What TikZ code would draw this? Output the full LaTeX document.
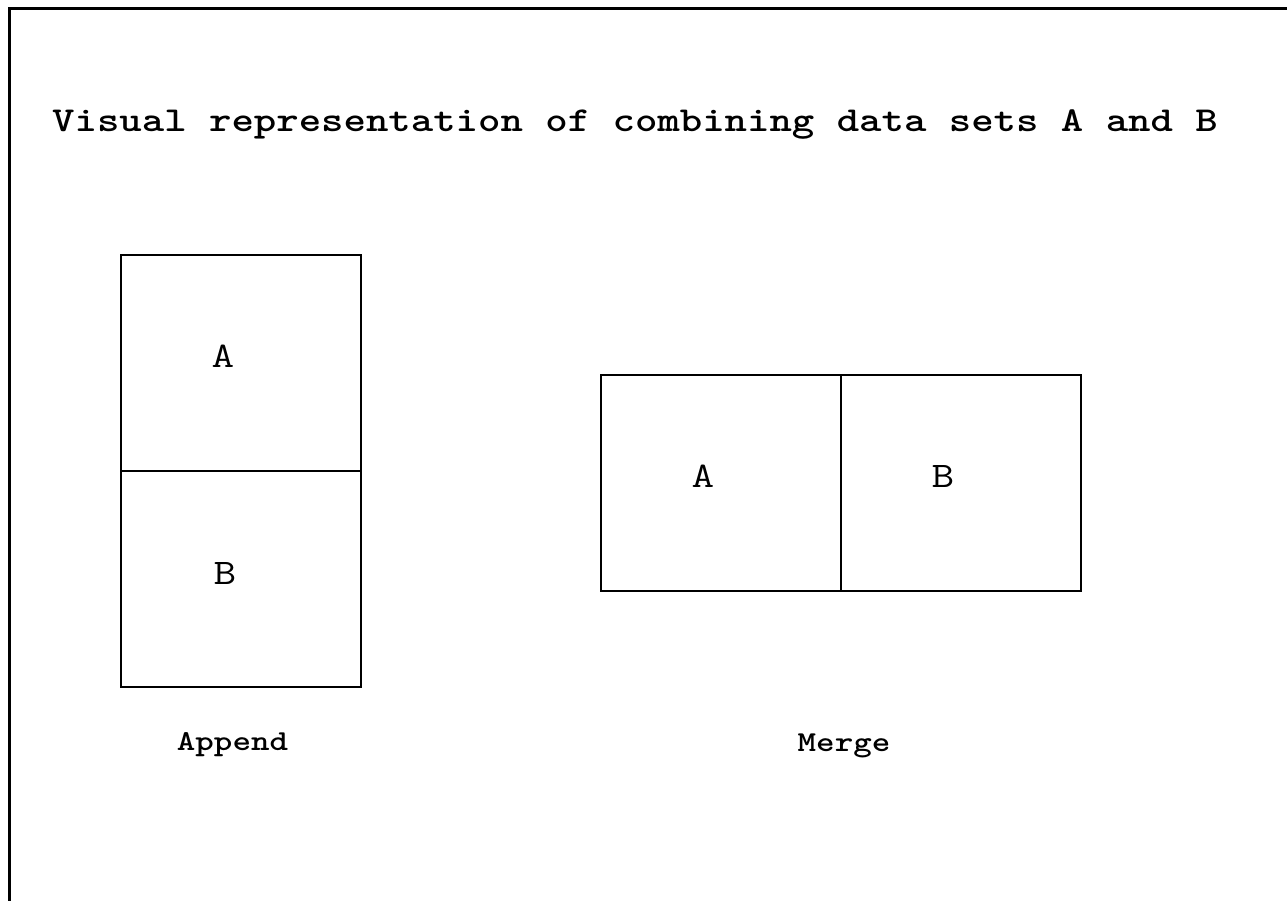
\documentclass[tikz,border=0pt]{standalone}
\usepackage{fontspec}
% widened typewriter face for all the lettering
\newcommand{\wide}[1]{\scalebox{1.22}[1]{#1}}
\begin{document}
\begin{tikzpicture}[x=1pt,y=-1pt,
  cell/.style={draw=black,line width=1.5pt,minimum width=240pt,minimum height=216pt,inner sep=0pt,outer sep=0pt},
  cellname/.style={font=\ttfamily\fontsize{36}{38}\selectfont,inner sep=0pt,anchor=base},
  caption/.style={font=\ttfamily\bfseries\fontsize{28.9}{32}\selectfont,inner sep=0pt,anchor=base},
  headline/.style={font=\ttfamily\bfseries\fontsize{35}{38}\selectfont,inner sep=0pt,anchor=base west}]
\useasboundingbox (0,0) rectangle (1287,901);
\begin{scope}
\clip (0,0) rectangle (1287,901);
\draw[line width=2.2pt] (9.5,1000) |- (1400,8.5);
\end{scope}

\node[headline] (title) at (52,132) {\wide{Visual representation of combining data sets A and B}};

% stacked: A above B
\node[cell] (appA) at (241,363) {};
\node[cell] (appB) at (241,579) {};
\node[cellname] (appAtxt) at (223,367) {\wide{A}};
\node[cellname] (appBtxt) at (225,584) {\wide{B}};
\node[caption] (append) at (232.5,750.5) {\wide{Append}};

% side by side: A beside B
\node[cell] (merA) at (721,483) {};
\node[cell] (merB) at (961,483) {};
\node[cellname] (merAtxt) at (703,487) {\wide{A}};
\node[cellname] (merBtxt) at (943,487) {\wide{B}};
\node[caption] (merge) at (844,751) {\wide{Merge}};
\end{tikzpicture}
\end{document}
